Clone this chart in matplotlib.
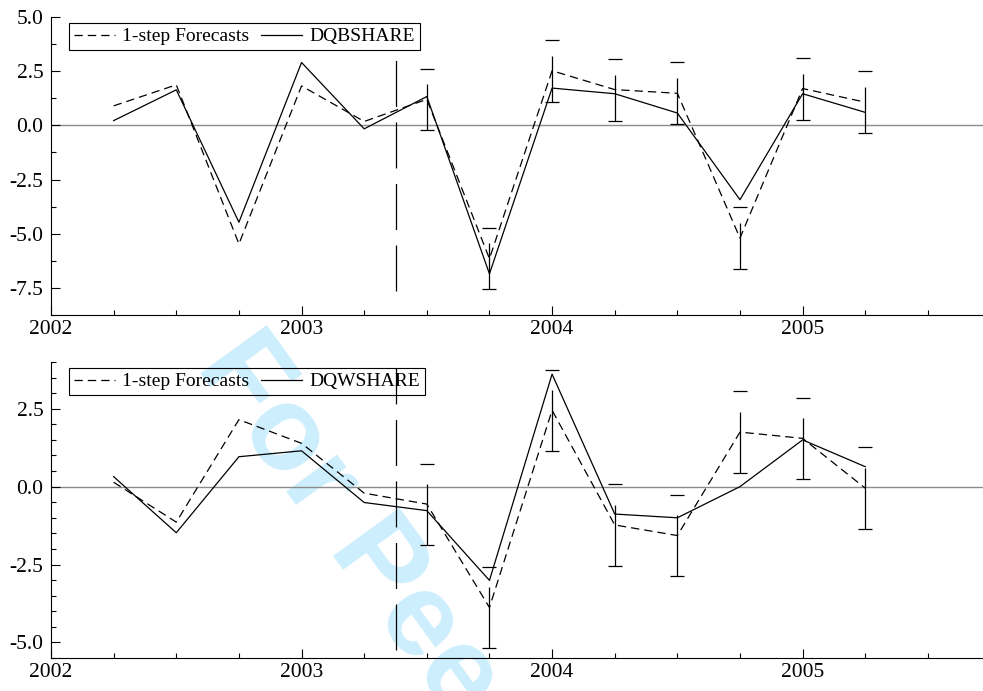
"""
Recursive 1-step forecasts with error bars for DQBSHARE and DQWSHARE.
"""

import matplotlib
matplotlib.use("Agg")
import matplotlib.pyplot as plt
from matplotlib.ticker import MultipleLocator, FormatStrFormatter

# quarterly dates, 2002Q2 .. 2005Q2
quarters = [2002.25, 2002.5, 2002.75, 2003.0, 2003.25, 2003.5, 2003.75,
            2004.0, 2004.25, 2004.5, 2004.75, 2005.0, 2005.25]
year_ticks = [2002, 2003, 2004, 2005]
forecast_start = 2003.375  # dashed marker before the forecast period
n_fit = 5                  # points before the first forecast with error bar

# DQBSHARE
b_actual = [0.22, 1.64, -4.47, 2.9, -0.16, 1.33, -6.85,
            1.72, 1.46, 0.57, -3.43, 1.46, 0.6]
b_forecast = [0.9, 1.87, -5.47, 1.82, 0.18, 1.2, -6.15,
              2.52, 1.65, 1.48, -5.2, 1.7, 1.07]
b_err = [1.4, 1.42, 1.42, 1.43, 1.43, 1.42, 1.43, 1.43]
b_marker = (-7.62, 3.03)

# DQWSHARE
w_actual = [0.32, -1.48, 0.96, 1.15, -0.51, -0.77, -3.01,
            3.61, -0.88, -1.0, 0.0, 1.5, 0.64]
w_forecast = [0.14, -1.14, 2.15, 1.39, -0.21, -0.56, -3.88,
              2.45, -1.23, -1.57, 1.75, 1.55, -0.05]
w_err = [1.3, 1.31, 1.3, 1.32, 1.31, 1.31, 1.29, 1.32]
w_marker = (-5.26, 3.8)

plt.rcParams["font.family"] = ["Liberation Serif", "DejaVu Serif"]
plt.rcParams["axes.unicode_minus"] = False
plt.rcParams["lines.scale_dashes"] = False

fig = plt.figure(figsize=(9.83, 6.91), dpi=100)

panels = [
    dict(rect=[0.0519, 0.5441, 0.9481, 0.4313], name="DQBSHARE",
         actual=b_actual, fc=b_forecast, err=b_err, marker=b_marker,
         ylim=(-8.75, 5.0), minor=1.25, bar_dash=(33.1, 40)),
    dict(rect=[0.0519, 0.0478, 0.9481, 0.4283], name="DQWSHARE",
         actual=w_actual, fc=w_forecast, err=w_err, marker=w_marker,
         ylim=(-5.5, 4.0), minor=0.5, bar_dash=(43.9, 40)),
]

for p in panels:
    ax = fig.add_axes(p["rect"])
    ax.set_facecolor("none")

    ax.axhline(0, color="#8c8c8c", lw=1.0, zorder=1)
    ax.plot(quarters, p["fc"], color="black", lw=0.9,
            linestyle=(0, (6.0, 3.6)), label="1-step Forecasts", zorder=3)
    ax.plot(quarters, p["actual"], color="black", lw=0.9,
            label=p["name"], zorder=3)

    eb = ax.errorbar(quarters[n_fit:], p["fc"][n_fit:], yerr=p["err"],
                     fmt="none", ecolor="black", elinewidth=0.9,
                     capsize=5, capthick=0.9, zorder=2)
    eb[2][0].set_linestyle((0, p["bar_dash"]))

    ax.vlines(forecast_start, p["marker"][0], p["marker"][1], color="black",
              lw=0.9, linestyle=(0, (33.1, 11.2)), zorder=2)

    ax.set_xlim(2002, 2005.72)
    ax.set_ylim(*p["ylim"])
    ax.set_xticks(year_ticks)
    ax.xaxis.set_minor_locator(MultipleLocator(0.25))
    ax.yaxis.set_major_locator(MultipleLocator(2.5))
    ax.yaxis.set_minor_locator(MultipleLocator(p["minor"]))
    ax.yaxis.set_major_formatter(FormatStrFormatter("%.1f"))

    for side in ["top", "right"]:
        ax.spines[side].set_visible(False)
    for side in ["left", "bottom"]:
        ax.spines[side].set_linewidth(0.8)

    ax.tick_params(axis="both", which="both", direction="in", width=0.8,
                   labelsize=15.5)
    ax.tick_params(axis="x", which="major", length=6.5, pad=3.5)
    ax.tick_params(axis="x", which="minor", length=3.6)
    ax.tick_params(axis="y", which="major", length=6.3, pad=5.5)
    ax.tick_params(axis="y", which="minor", length=3.8)

    leg = ax.legend(loc="upper left", bbox_to_anchor=(0.0193, 0.98),
                    borderaxespad=0, ncol=2, fontsize=14, frameon=True,
                    fancybox=False, framealpha=1, facecolor="none",
                    edgecolor="black", handlelength=2.1, handletextpad=0.4,
                    columnspacing=0.6, borderpad=0.25)
    leg.get_frame().set_linewidth(0.8)

# review watermark behind the plots
fig.text(0.1984, 0.4703, "For Peer Review", fontsize=86, fontweight="bold",
         family="Liberation Sans", color="#cdeefd", rotation=-54,
         rotation_mode="anchor", ha="left", va="baseline", zorder=-1)

plt.savefig("out.png", dpi=100)
